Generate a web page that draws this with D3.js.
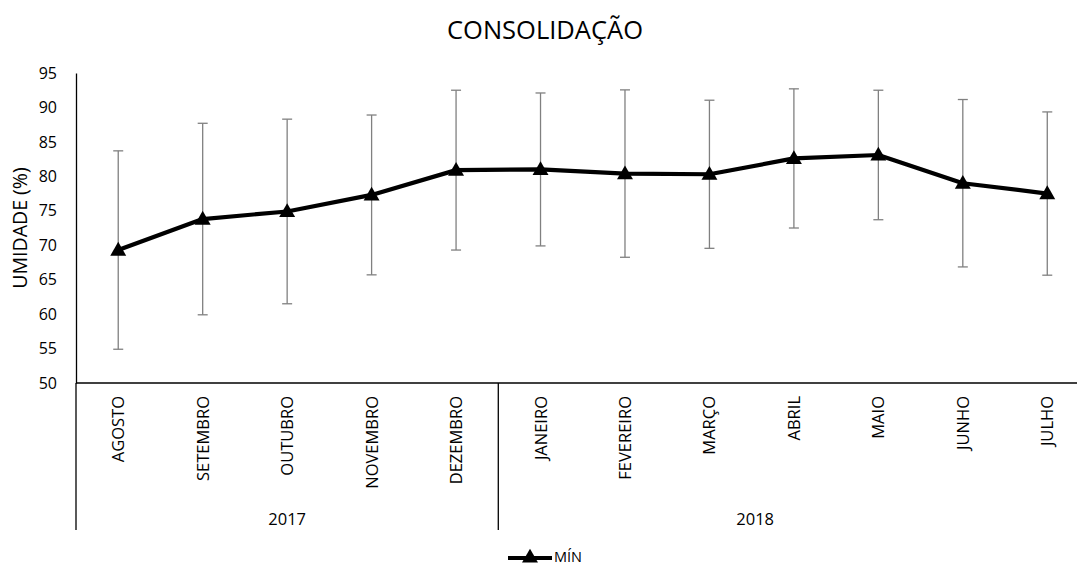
<!DOCTYPE html>
<html>
<head>
<meta charset="utf-8">
<script src="https://cdn.jsdelivr.net/npm/d3@7"></script>
<style>
  html, body { margin: 0; padding: 0; background: #fff; overflow: hidden; }
  svg { display: block; font-family: "Open Sans", "Noto Sans", sans-serif; }
</style>
</head>
<body>
<svg id="chart" width="1077" height="565"></svg>
<script>
// Monthly humidity (minimum) with standard deviation, Aug 2017 – Jul 2018
const months = ["AGOSTO", "SETEMBRO", "OUTUBRO", "NOVEMBRO", "DEZEMBRO",
                "JANEIRO", "FEVEREIRO", "MARÇO", "ABRIL", "MAIO", "JUNHO", "JULHO"];
const years = ["2017", "2018"];
const monthsPerYear = [5, 7];
const minValues = [69.3, 73.8, 74.9, 77.3, 80.9, 81.0, 80.4, 80.3, 82.6, 83.1, 79.0, 77.5];
const errValues = [14.4, 13.9, 13.4, 11.6, 11.6, 11.1, 12.15, 10.75, 10.1, 9.4, 12.15, 11.85];
const yTicks = [50, 55, 60, 65, 70, 75, 80, 85, 90, 95];
const seriesName = "MÍN";
const chartTitle = "CONSOLIDAÇÃO";
const yTitle = "UMIDADE (%)";

const svg = d3.select("#chart");
const plotLeft = 76, plotRight = 1089.5, plotTop = 73, plotBottom = 383;
const groupBottom = 530;
const FONT = "\"Open Sans\", sans-serif";

const x = d3.scaleBand().domain(months).range([plotLeft, plotRight]).padding(0);
const y = d3.scaleLinear().domain([50, 95]).range([plotBottom, plotTop]);
const cx = m => x(m) + x.bandwidth() / 2;

// Title
svg.append("text")
  .attr("x", 545).attr("y", 39)
  .attr("text-anchor", "middle")
  .attr("font-size", 25.5).attr("fill", "#000")
  .text(chartTitle);

// Y axis
const yAxis = d3.axisLeft(y).tickValues(yTicks).tickSize(0).tickPadding(0);
const yG = svg.append("g").attr("transform", `translate(${plotLeft},0)`).call(yAxis);
yG.attr("font-family", FONT).attr("font-size", 16);
yG.select(".domain").attr("stroke", "#000").attr("stroke-width", 1.3);
yG.selectAll(".tick text")
  .attr("x", -19).attr("fill", "#000");

svg.append("text")
  .attr("transform", `translate(27,${(plotTop + plotBottom) / 2}) rotate(-90)`)
  .attr("text-anchor", "middle")
  .attr("font-size", 19.5).attr("fill", "#000")
  .text(yTitle);

// X axis baseline
svg.append("line")
  .attr("x1", plotLeft).attr("x2", plotRight)
  .attr("y1", y(50)).attr("y2", y(50))
  .attr("stroke", "#000").attr("stroke-width", 1.3);

// Month labels (rotated)
svg.append("g").selectAll("text")
  .data(months).join("text")
  .attr("transform", m => `translate(${cx(m) + 6},${plotBottom + 13}) rotate(-90)`)
  .attr("text-anchor", "end")
  .attr("font-size", 16.5).attr("fill", "#000")
  .text(m => m);

// Year grouping: separators and labels
let start = 0;
const groupLabelRight = 1012;
years.forEach((yr, i) => {
  const first = months[start];
  const last = months[start + monthsPerYear[i] - 1];
  const x0 = x(first);
  const x1 = x(last) + x.bandwidth();
  svg.append("line")
    .attr("x1", x0).attr("x2", x0)
    .attr("y1", plotBottom).attr("y2", groupBottom)
    .attr("stroke", "#000").attr("stroke-width", 1.3);
  svg.append("text")
    .attr("x", (x0 + Math.min(x1, groupLabelRight)) / 2).attr("y", 525)
    .attr("text-anchor", "middle")
    .attr("font-size", 16.5).attr("fill", "#000")
    .text(yr);
  start += monthsPerYear[i];
});

const data = months.map((m, i) => ({ m, v: minValues[i], e: errValues[i] }));

// Error bars
const eb = svg.append("g").attr("stroke", "#808080").attr("stroke-width", 1.3);
data.forEach(d => {
  const xc = cx(d.m);
  const capHalf = 5;
  eb.append("line").attr("x1", xc).attr("x2", xc)
    .attr("y1", y(d.v + d.e)).attr("y2", y(d.v - d.e));
  eb.append("line").attr("x1", xc - capHalf).attr("x2", xc + capHalf)
    .attr("y1", y(d.v + d.e)).attr("y2", y(d.v + d.e));
  eb.append("line").attr("x1", xc - capHalf).attr("x2", xc + capHalf)
    .attr("y1", y(d.v - d.e)).attr("y2", y(d.v - d.e));
});

// Series line
const line = d3.line().x(d => cx(d.m)).y(d => y(d.v));
svg.append("path").datum(data)
  .attr("d", line)
  .attr("fill", "none").attr("stroke", "#000")
  .attr("stroke-width", 4.2).attr("stroke-linejoin", "round");

// Triangle markers
const tri = d3.symbol().type(d3.symbolTriangle).size(110);
svg.append("g").selectAll("path")
  .data(data).join("path")
  .attr("transform", d => `translate(${cx(d.m)},${y(d.v) + 1})`)
  .attr("d", tri)
  .attr("fill", "#000");

// Legend
const lg = svg.append("g");
lg.append("line").attr("x1", 508).attr("x2", 552).attr("y1", 558).attr("y2", 558)
  .attr("stroke", "#000").attr("stroke-width", 4.2);
lg.append("path").attr("transform", "translate(530,558)")
  .attr("d", tri).attr("fill", "#000");
lg.append("text").attr("x", 554).attr("y", 562)
  .attr("font-size", 14.5).attr("fill", "#000")
  .text(seriesName);
</script>
</body>
</html>
